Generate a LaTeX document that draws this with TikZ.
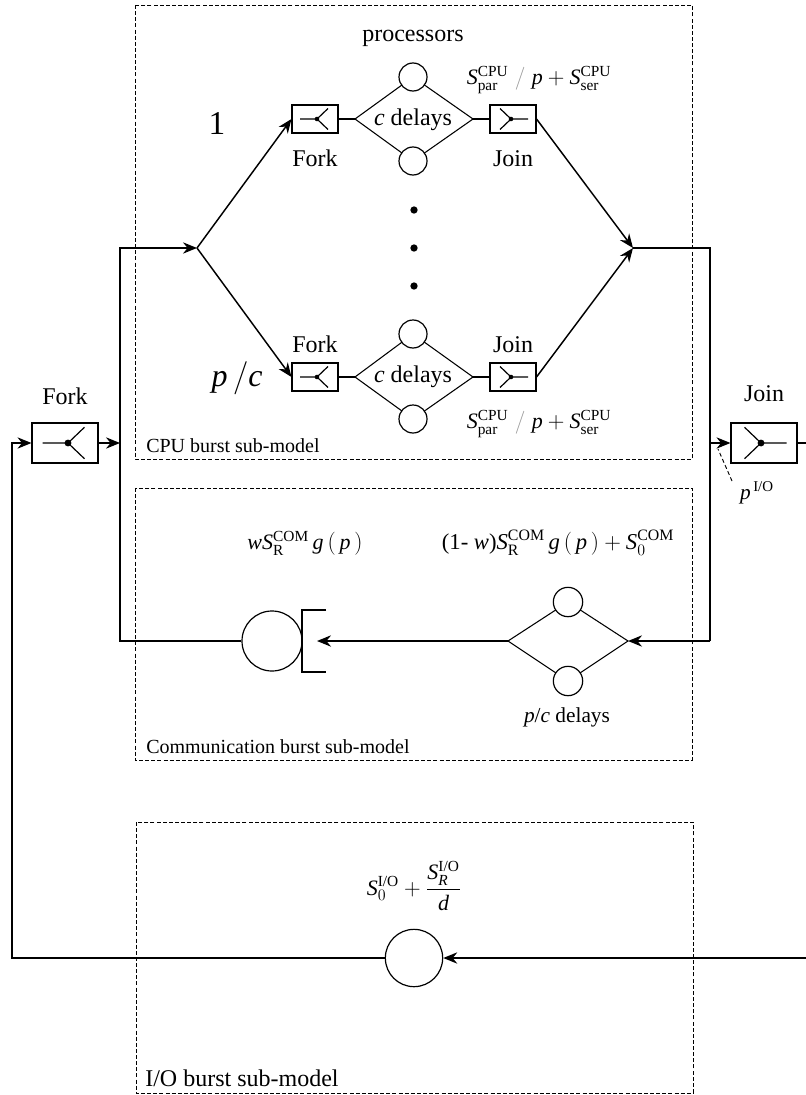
\documentclass[tikz,border=0pt]{standalone}
\usepackage{amsmath}
\usepackage{fontspec}
\setmainfont{Liberation Serif}
\usetikzlibrary{arrows.meta,calc}
\newcommand\cpuform{$\textit{S}^{\text{CPU}}_{\text{par}}\;{\color{black!40}/}\;\textit{p}+\textit{S}^{\text{CPU}}_{\text{ser}}$}
\begin{document}
\begin{tikzpicture}[x=0.75pt,y=-0.75pt,
  conn/.style={line width=1.1pt},
  arr/.style={line width=1.1pt,-{Stealth[length=10.5pt,width=8.5pt]}},
  region/.style={draw,line width=0.7pt,dash pattern=on 3pt off 1.6pt},
  sym/.style={line width=0.9pt},
  forksym/.style={path picture={
      \coordinate (pc) at (path picture bounding box.center);
      \draw[sym] ($(pc)+({-15*#1},0)$) -- ($(pc)+({2*#1},0)$)
                 ($(pc)+({13*#1},{-10.5*#1})$) -- ($(pc)+({2*#1},0)$) -- ($(pc)+({13*#1},{10.5*#1})$);
      \fill ($(pc)+({2*#1},0)$) circle ({2.3*#1});}},
  joinsym/.style={path picture={
      \coordinate (pc) at (path picture bounding box.center);
      \draw[sym] ($(pc)+({15*#1},0)$) -- ($(pc)+({-2*#1},0)$)
                 ($(pc)+({-13*#1},{-10.5*#1})$) -- ($(pc)+({-2*#1},0)$) -- ($(pc)+({-13*#1},{10.5*#1})$);
      \fill ($(pc)+({-2*#1},0)$) circle ({2.3*#1});}},
  smallbox/.style={draw,line width=0.8pt,minimum width=34.5pt,minimum height=21pt,inner sep=0pt},
  bigbox/.style={draw,line width=0.8pt,minimum width=49.5pt,minimum height=30pt,inner sep=0pt},
  srv/.style={circle,draw,line width=0.9pt,fill=white,inner sep=0pt,minimum size=#1},
  lbl/.style={inner sep=0pt,font=\fontsize{18}{21}\selectfont},
  ttl/.style={inner sep=0pt,anchor=base west,font=\fontsize{15}{18}\selectfont},
  frm/.style={inner sep=0pt,font=\fontsize{16.5}{19}\selectfont},
  dot/.style={circle,fill,inner sep=0pt,minimum size=5.5pt}
]
\useasboundingbox (0,0) rectangle (806,1095);

% sub-model regions
\draw[region] (135,5) rectangle (692,459);
\draw[region] (135,488) rectangle (692,760);
\draw[region] (136,822) rectangle (693,1093);
\node[ttl] (tcpu) at (146,452) {CPU burst sub-model};
\node[ttl] (tcom) at (146,753) {Communication burst sub-model};
\node[ttl,font=\fontsize{18}{21}\selectfont] (tio) at (145,1086) {I/O burst sub-model};

% CPU sub-model
\node[lbl] (proc) at (413,38) {processors};
\node[inner sep=0pt,font=\fontsize{25}{30}\selectfont] (one) at (217,123) {1};
\node[inner sep=0pt,font=\fontsize{24}{29}\selectfont] (pc) at (237,378) {$\textit{p}\,/\textit{c}$};

\node[smallbox,forksym=1] (f1) at (315,119) {};
\node[smallbox,joinsym=1] (j1) at (513,119) {};
\node[smallbox,forksym=1] (f2) at (315,377) {};
\node[smallbox,joinsym=1] (j2) at (513,377) {};
\node[lbl,anchor=north] (f1l) at (315,150) {Fork};
\node[lbl,anchor=north] (j1l) at (513,150) {Join};
\node[lbl,anchor=south] (f2l) at (315,353) {Fork};
\node[lbl,anchor=south] (j2l) at (513,353) {Join};

\coordinate (d1l) at (355,119); \coordinate (d1t) at (413,77);
\coordinate (d1r) at (473,119); \coordinate (d1b) at (413,161);
\coordinate (d2l) at (355,377); \coordinate (d2t) at (413,334);
\coordinate (d2r) at (473,377); \coordinate (d2b) at (413,419);
\draw[line width=0.8pt] (d1l) -- (d1t) -- (d1r) -- (d1b) -- cycle;
\draw[line width=0.8pt] (d2l) -- (d2t) -- (d2r) -- (d2b) -- cycle;
\node[srv=21pt] (c1a) at (d1t) {};
\node[srv=21pt] (c1b) at (d1b) {};
\node[srv=21pt] (c2a) at (d2t) {};
\node[srv=21pt] (c2b) at (d2b) {};
\node[lbl] (cd1) at (413,120) {\textit{c} delays};
\node[lbl] (cd2) at (413,377) {\textit{c} delays};
\draw[conn] (f1.east) -- (d1l) (d1r) -- (j1.west);
\draw[conn] (f2.east) -- (d2l) (d2r) -- (j2.west);

\node[frm] (sf1) at (539,80) {\cpuform};
\node[frm] (sf2) at (539,424) {\cpuform};

\node[dot] (dt1) at (414,210) {};
\node[dot] (dt2) at (414,248) {};
\node[dot] (dt3) at (414,286) {};

\coordinate (s) at (197,248);
\coordinate (m) at (633,248);
\draw[arr] (s) -- (f1.west);
\draw[arr] (s) -- (f2.west);
\draw[arr] (j1.east) -- (m);
\draw[arr] (j2.east) -- (m);

% outer fork / join
\node[bigbox,forksym=1.5] (F) at (65,443) {};
\node[bigbox,joinsym=1.5] (J) at (764,443) {};
\node[lbl,anchor=south] (Fl) at (65,405) {Fork};
\node[lbl,anchor=south] (Jl) at (764,402) {Join};

\coordinate (rtop) at (710,248);
\coordinate (rmid) at (710,443);
\coordinate (rbot) at (710,641);
\coordinate (ltop) at (120,248);
\coordinate (lmid) at (120,443);
\coordinate (lbot) at (120,641);
\coordinate (jR) at (806,443);

% communication sub-model
\coordinate (d3l) at (508,641); \coordinate (d3t) at (568,602);
\coordinate (d3r) at (628,641); \coordinate (d3b) at (568,681);
\draw[line width=0.8pt] (d3l) -- (d3t) -- (d3r) -- (d3b) -- cycle;
\node[srv=22pt] (c3a) at (d3t) {};
\node[srv=22pt] (c3b) at (d3b) {};
\node[srv=45pt] (q) at (272,641) {};
\draw[line width=0.9pt] (326,610) -- (302,610) -- (302,672) -- (326,672);
\coordinate (qin) at (317,641);
\node[frm] (wf) at (305,543) {$\textit{wS}^{\text{COM}}_{\text{R}}\,\textit{g}\,(\,\textit{p}\,)$};
\node[frm,font=\fontsize{17}{20}\selectfont] (wf2) at (558,543) {$\text{(1-\ }\textit{w}\text{)}\textit{S}^{\text{COM}}_{\text{R}}\,\textit{g}\,(\,\textit{p}\,)+\textit{S}^{\text{COM}}_{0}$};
\node[inner sep=0pt,font=\fontsize{16}{19}\selectfont] (pcd) at (567,717) {\textit{p}/\textit{c} delays};

% I/O sub-model
\node[srv=43pt] (io) at (414,958) {};
\node[frm] (iof) at (414,886) {$\textit{S}^{\text{I/O}}_{0}+\dfrac{\textit{S}^{\text{I/O}}_{\textit{R}}}{\textit{d}}$};
\coordinate (ioR) at (806,958);
\coordinate (ioL) at (12,958);
\coordinate (ioU) at (12,443);

% p^{I/O}
\node[inner sep=0pt,font=\fontsize{16}{19}\selectfont] (pio) at (757,493) {$\textit{p}^{\,\text{I/O}}$};
\coordinate (pa) at (732,481);
\coordinate (pb) at (718,449);
\draw[line width=0.7pt,dash pattern=on 3pt off 2pt] (pa) -- (pb);

% connectors
\draw[conn] (m) -- (rtop) -- (rbot);
\draw[arr] (rbot) -- (d3r);
\draw[arr] (rmid) -- (J.west);
\draw[conn] (J.east) -- (jR);
\draw[arr] (d3l) -- (qin);
\draw[arr] (q.west) -- (lbot) -- (ltop) -- (s);
\draw[arr] (F.east) -- (lmid);
\draw[arr] (ioR) -- (io.east);
\draw[arr] (io.west) -- (ioL) -- (ioU) -- (F.west);
\end{tikzpicture}
\end{document}
